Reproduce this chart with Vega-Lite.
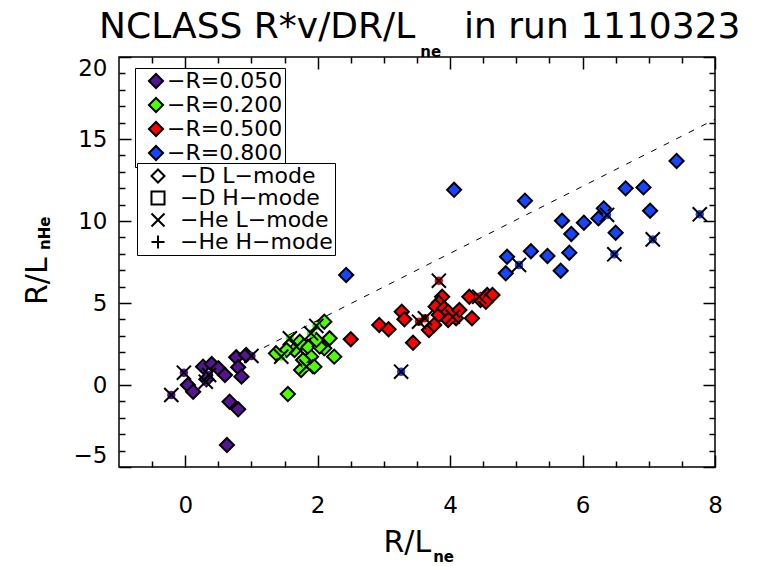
{
  "$schema": "https://vega.github.io/schema/vega-lite/v6.json",
  "width": 596,
  "height": 410,
  "autosize": {"type": "none"},
  "padding": {"left": 119, "top": 57, "right": 48, "bottom": 99},
  "background": "white",
  "config": {
    "view": {"stroke": "black", "strokeWidth": 1.5},
    "font": "DejaVu Sans",
    "axis": {"tickColor": "black", "tickWidth": 1.5}
  },
  "datasets": {
    "pts": [
      {"x": -0.21, "y": -0.61, "R": "0.050", "mode": "He L-mode"},
      {"x": -0.02, "y": 0.75, "R": "0.050", "mode": "He L-mode"},
      {"x": 0.04, "y": 0.0, "R": "0.050", "mode": "D L-mode"},
      {"x": 0.12, "y": -0.41, "R": "0.050", "mode": "D L-mode"},
      {"x": 0.27, "y": 1.12, "R": "0.050", "mode": "D L-mode"},
      {"x": 0.32, "y": 0.35, "R": "0.050", "mode": "D L-mode"},
      {"x": 0.40, "y": 1.28, "R": "0.050", "mode": "D L-mode"},
      {"x": 0.36, "y": 0.61, "R": "0.050", "mode": "He L-mode"},
      {"x": 0.31, "y": 0.2, "R": "0.050", "mode": "He L-mode"},
      {"x": 0.50, "y": 1.02, "R": "0.050", "mode": "D L-mode"},
      {"x": 0.60, "y": 0.61, "R": "0.050", "mode": "D L-mode"},
      {"x": 0.67, "y": -1.02, "R": "0.050", "mode": "D L-mode"},
      {"x": 0.80, "y": -1.48, "R": "0.050", "mode": "D L-mode"},
      {"x": 0.63, "y": -3.66, "R": "0.050", "mode": "D L-mode"},
      {"x": 0.77, "y": 1.69, "R": "0.050", "mode": "D L-mode"},
      {"x": 0.80, "y": 1.08, "R": "0.050", "mode": "D L-mode"},
      {"x": 0.85, "y": 0.51, "R": "0.050", "mode": "D L-mode"},
      {"x": 0.92, "y": 1.83, "R": "0.050", "mode": "D L-mode"},
      {"x": 1.00, "y": 1.77, "R": "0.050", "mode": "He L-mode"},
      {"x": 2.10, "y": 3.86, "R": "0.200", "mode": "D L-mode"},
      {"x": 1.98, "y": 3.60, "R": "0.200", "mode": "He L-mode"},
      {"x": 1.90, "y": 3.15, "R": "0.200", "mode": "He L-mode"},
      {"x": 2.18, "y": 2.85, "R": "0.200", "mode": "D L-mode"},
      {"x": 2.10, "y": 2.24, "R": "0.200", "mode": "D L-mode"},
      {"x": 2.25, "y": 1.73, "R": "0.200", "mode": "D L-mode"},
      {"x": 1.90, "y": 1.73, "R": "0.200", "mode": "D L-mode"},
      {"x": 1.95, "y": 1.12, "R": "0.200", "mode": "D L-mode"},
      {"x": 1.75, "y": 0.91, "R": "0.200", "mode": "D L-mode"},
      {"x": 1.85, "y": 2.34, "R": "0.200", "mode": "D L-mode"},
      {"x": 1.73, "y": 2.64, "R": "0.200", "mode": "D L-mode"},
      {"x": 1.78, "y": 1.52, "R": "0.200", "mode": "D L-mode"},
      {"x": 1.65, "y": 2.13, "R": "0.200", "mode": "D L-mode"},
      {"x": 2.03, "y": 2.34, "R": "0.200", "mode": "D L-mode"},
      {"x": 1.98, "y": 2.74, "R": "0.200", "mode": "D L-mode"},
      {"x": 1.53, "y": 2.13, "R": "0.200", "mode": "D L-mode"},
      {"x": 1.37, "y": 1.93, "R": "0.200", "mode": "D L-mode"},
      {"x": 1.55, "y": -0.55, "R": "0.200", "mode": "D L-mode"},
      {"x": 1.58, "y": 2.85, "R": "0.200", "mode": "He L-mode"},
      {"x": 1.45, "y": 1.73, "R": "0.200", "mode": "He L-mode"},
      {"x": 1.83, "y": 1.12, "R": "0.200", "mode": "He L-mode"},
      {"x": 1.68, "y": 2.34, "R": "0.200", "mode": "He L-mode"},
      {"x": 2.50, "y": 2.79, "R": "0.500", "mode": "D L-mode"},
      {"x": 2.93, "y": 3.66, "R": "0.500", "mode": "D L-mode"},
      {"x": 3.07, "y": 3.40, "R": "0.500", "mode": "D L-mode"},
      {"x": 3.27, "y": 4.47, "R": "0.500", "mode": "D L-mode"},
      {"x": 3.31, "y": 4.01, "R": "0.500", "mode": "D L-mode"},
      {"x": 3.44, "y": 2.58, "R": "0.500", "mode": "D L-mode"},
      {"x": 3.68, "y": 3.35, "R": "0.500", "mode": "D L-mode"},
      {"x": 3.76, "y": 3.66, "R": "0.500", "mode": "D L-mode"},
      {"x": 3.88, "y": 5.38, "R": "0.500", "mode": "D L-mode"},
      {"x": 3.83, "y": 5.02, "R": "0.500", "mode": "D L-mode"},
      {"x": 3.78, "y": 4.78, "R": "0.500", "mode": "D L-mode"},
      {"x": 3.83, "y": 4.27, "R": "0.500", "mode": "D L-mode"},
      {"x": 3.91, "y": 4.68, "R": "0.500", "mode": "D L-mode"},
      {"x": 3.97, "y": 4.47, "R": "0.500", "mode": "D L-mode"},
      {"x": 4.09, "y": 4.07, "R": "0.500", "mode": "D L-mode"},
      {"x": 4.14, "y": 4.57, "R": "0.500", "mode": "D L-mode"},
      {"x": 3.97, "y": 3.96, "R": "0.500", "mode": "D L-mode"},
      {"x": 4.33, "y": 4.07, "R": "0.500", "mode": "D L-mode"},
      {"x": 4.29, "y": 5.38, "R": "0.500", "mode": "D L-mode"},
      {"x": 4.46, "y": 5.18, "R": "0.500", "mode": "D L-mode"},
      {"x": 4.56, "y": 5.49, "R": "0.500", "mode": "D L-mode"},
      {"x": 4.64, "y": 5.49, "R": "0.500", "mode": "D L-mode"},
      {"x": 4.54, "y": 5.08, "R": "0.500", "mode": "D L-mode"},
      {"x": 3.53, "y": 3.86, "R": "0.500", "mode": "He L-mode"},
      {"x": 3.62, "y": 4.07, "R": "0.500", "mode": "He L-mode"},
      {"x": 3.83, "y": 6.36, "R": "0.500", "mode": "He L-mode"},
      {"x": 4.04, "y": 4.16, "R": "0.500", "mode": "He L-mode"},
      {"x": 4.44, "y": 5.38, "R": "0.500", "mode": "He L-mode"},
      {"x": 2.43, "y": 6.71, "R": "0.800", "mode": "D L-mode"},
      {"x": 4.06, "y": 11.9, "R": "0.800", "mode": "D L-mode"},
      {"x": 4.86, "y": 7.82, "R": "0.800", "mode": "D L-mode"},
      {"x": 4.84, "y": 6.81, "R": "0.800", "mode": "D L-mode"},
      {"x": 5.22, "y": 8.16, "R": "0.800", "mode": "D L-mode"},
      {"x": 5.13, "y": 11.24, "R": "0.800", "mode": "D L-mode"},
      {"x": 7.42, "y": 13.66, "R": "0.800", "mode": "D L-mode"},
      {"x": 6.65, "y": 11.99, "R": "0.800", "mode": "D L-mode"},
      {"x": 6.92, "y": 12.05, "R": "0.800", "mode": "D L-mode"},
      {"x": 7.02, "y": 10.63, "R": "0.800", "mode": "D L-mode"},
      {"x": 6.32, "y": 10.77, "R": "0.800", "mode": "D L-mode"},
      {"x": 6.24, "y": 10.16, "R": "0.800", "mode": "D L-mode"},
      {"x": 6.02, "y": 9.90, "R": "0.800", "mode": "D L-mode"},
      {"x": 5.69, "y": 10.02, "R": "0.800", "mode": "D L-mode"},
      {"x": 5.83, "y": 9.21, "R": "0.800", "mode": "D L-mode"},
      {"x": 6.50, "y": 9.29, "R": "0.800", "mode": "D L-mode"},
      {"x": 5.80, "y": 8.07, "R": "0.800", "mode": "D L-mode"},
      {"x": 5.47, "y": 7.87, "R": "0.800", "mode": "D L-mode"},
      {"x": 5.67, "y": 6.97, "R": "0.800", "mode": "D L-mode"},
      {"x": 3.26, "y": 0.81, "R": "0.800", "mode": "He L-mode"},
      {"x": 5.04, "y": 7.32, "R": "0.800", "mode": "He L-mode"},
      {"x": 7.77, "y": 10.41, "R": "0.800", "mode": "He L-mode"},
      {"x": 6.37, "y": 10.37, "R": "0.800", "mode": "He L-mode"},
      {"x": 7.06, "y": 8.88, "R": "0.800", "mode": "He L-mode"},
      {"x": 6.48, "y": 7.97, "R": "0.800", "mode": "He L-mode"}
    ],
    "fit": [
      {"x": 1.0, "y": 1.9},
      {"x": 8.0, "y": 16.2}
    ]
  },
  "layer": [
    {
      "data": {"name": "pts"},
      "encoding": {
        "x": {
          "field": "x", "type": "quantitative",
          "scale": {"domain": [-1, 8], "nice": false, "zero": false},
          "axis": {
            "orient": "bottom",
            "values": [-0.5, 0, 0.5, 1, 1.5, 2, 2.5, 3, 3.5, 4, 4.5, 5, 5.5, 6, 6.5, 7, 7.5, 8],
            "labelExpr": "datum.value % 2 == 0 ? replace(datum.label, '.0', '') : ''",
            "tickSize": {"condition": {"test": "datum.value % 2 == 0", "value": -12}, "value": -6},
            "labelPadding": 39, "labelFlush": false, "labelOverlap": false,
            "labelFontSize": 23, "labelColor": "black",
            "domain": false, "grid": false, "title": null
          }
        },
        "y": {
          "field": "y", "type": "quantitative",
          "scale": {"domain": [-5, 20], "nice": false, "zero": false},
          "axis": {
            "orient": "left",
            "values": [-5, -4, -3, -2, -1, 0, 1, 2, 3, 4, 5, 6, 7, 8, 9, 10, 11, 12, 13, 14, 15, 16, 17, 18, 19, 20],
            "labelExpr": "datum.value % 5 == 0 ? replace(datum.label, '.0', '') : ''",
            "tickSize": {"condition": {"test": "datum.value % 5 == 0", "value": -12}, "value": -6},
            "labelPadding": 24, "labelFlush": true, "labelOverlap": false,
            "labelFontSize": 23, "labelColor": "black",
            "domain": false, "grid": false, "title": null
          }
        }
      },
      "layer": [
        {
          "transform": [{"filter": "datum.mode == 'D L-mode'"}],
          "mark": {"type": "point", "filled": true, "shape": "diamond", "stroke": "black", "strokeWidth": 2, "size": 200, "opacity": 1},
          "encoding": {
            "color": {
              "field": "R", "type": "nominal",
              "scale": {"domain": ["0.050", "0.200", "0.500", "0.800"], "range": ["#551491", "#4DFF00", "#FF0000", "#1446FF"]},
              "legend": {
                "orient": "none", "legendX": 16, "legendY": 11, "title": null,
                "strokeColor": "black", "fillColor": "white", "padding": 2,
                "symbolType": "diamond", "symbolSize": 200, "symbolStrokeColor": "black", "symbolStrokeWidth": 2,
                "symbolOffset": 8, "labelOffset": 0, "rowPadding": 0,
                "labelFontSize": 22, "labelColor": "black",
                "labelExpr": "'\u2212R=' + datum.label",
                "encode": {"symbols": {"update": {"shape": {"value": "diamond"}, "stroke": {"value": "black"}, "strokeWidth": {"value": 2}, "opacity": {"value": 1}}}}
              }
            }
          }
        },
        {
          "transform": [{"filter": "datum.mode == 'He L-mode'"}],
          "mark": {"type": "point", "filled": true, "shape": "circle", "size": 70, "opacity": 1},
          "encoding": {
            "color": {"field": "R", "type": "nominal"}
          }
        },
        {
          "transform": [{"filter": "datum.mode == 'He L-mode'"}],
          "mark": {"type": "point", "filled": false, "stroke": "black", "strokeWidth": 2, "size": 200, "opacity": 1},
          "encoding": {
            "shape": {
              "field": "mode", "type": "nominal",
              "scale": {
                "domain": ["D L-mode", "D H-mode", "He L-mode", "He H-mode"],
                "range": ["diamond", "square", "M-1,-1L1,1M-1,1L1,-1", "M-1,0L1,0M0,-1L0,1"]
              },
              "legend": {
                "orient": "none", "legendX": 18, "legendY": 106, "title": null,
                "strokeColor": "black", "fillColor": "white", "padding": 2,
                "symbolSize": 170, "symbolStrokeWidth": 2, "symbolStrokeColor": "black", "symbolFillColor": "transparent",
                "symbolOffset": 8, "labelOffset": 11, "rowPadding": 0,
                "labelFontSize": 22, "labelColor": "black",
                "labelExpr": "'\u2212' + replace(datum.label, '-', '\u2212')"
              }
            }
          }
        }
      ]
    },
    {
      "data": {"name": "fit"},
      "mark": {"type": "line", "stroke": "black", "strokeWidth": 1, "strokeDash": [6, 8]},
      "encoding": {
        "x": {
          "field": "x", "type": "quantitative",
          "scale": {"domain": [-1, 8], "nice": false, "zero": false},
          "axis": {
            "orient": "top",
            "values": [-0.5, 0, 0.5, 1, 1.5, 2, 2.5, 3, 3.5, 4, 4.5, 5, 5.5, 6, 6.5, 7, 7.5, 8],
            "labels": false,
            "tickSize": {"condition": {"test": "datum.value % 2 == 0", "value": -12}, "value": -6},
            "domain": false, "grid": false, "title": null
          }
        },
        "y": {
          "field": "y", "type": "quantitative",
          "scale": {"domain": [-5, 20], "nice": false, "zero": false},
          "axis": {
            "orient": "right",
            "values": [-5, -4, -3, -2, -1, 0, 1, 2, 3, 4, 5, 6, 7, 8, 9, 10, 11, 12, 13, 14, 15, 16, 17, 18, 19, 20],
            "labels": false,
            "tickSize": {"condition": {"test": "datum.value % 5 == 0", "value": -12}, "value": -6},
            "domain": false, "grid": false, "title": null
          }
        }
      }
    },
    {
      "data": {"values": [{}]},
      "layer": [
        {
          "mark": {"type": "text", "align": "right", "baseline": "alphabetic", "fontSize": 36, "color": "black"},
          "encoding": {
            "x": {"datum": 3.473, "type": "quantitative", "scale": {"domain": [-1, 8], "nice": false, "zero": false}, "axis": null},
            "y": {"datum": 21.16, "type": "quantitative", "scale": {"domain": [-5, 20], "nice": false, "zero": false}, "axis": null},
            "text": {"value": "NCLASS R*v/DR/L"}
          }
        },
        {
          "mark": {"type": "text", "align": "left", "baseline": "alphabetic", "fontSize": 15, "fontWeight": "bold", "color": "black"},
          "encoding": {
            "x": {"datum": 3.55, "type": "quantitative", "scale": {"domain": [-1, 8], "nice": false, "zero": false}, "axis": null},
            "y": {"datum": 20.0, "type": "quantitative", "scale": {"domain": [-5, 20], "nice": false, "zero": false}, "axis": null},
            "text": {"value": "ne"}
          }
        },
        {
          "mark": {"type": "text", "align": "left", "baseline": "alphabetic", "fontSize": 36, "color": "black"},
          "encoding": {
            "x": {"datum": 4.21, "type": "quantitative", "scale": {"domain": [-1, 8], "nice": false, "zero": false}, "axis": null},
            "y": {"datum": 21.16, "type": "quantitative", "scale": {"domain": [-5, 20], "nice": false, "zero": false}, "axis": null},
            "text": {"value": "in run 1110323"}
          }
        },
        {
          "mark": {"type": "text", "align": "right", "baseline": "alphabetic", "fontSize": 30, "color": "black"},
          "encoding": {
            "x": {"datum": 3.714, "type": "quantitative", "scale": {"domain": [-1, 8], "nice": false, "zero": false}, "axis": null},
            "y": {"datum": -10.18, "type": "quantitative", "scale": {"domain": [-5, 20], "nice": false, "zero": false}, "axis": null},
            "text": {"value": "R/L"}
          }
        },
        {
          "mark": {"type": "text", "align": "left", "baseline": "alphabetic", "fontSize": 15, "fontWeight": "bold", "color": "black"},
          "encoding": {
            "x": {"datum": 3.744, "type": "quantitative", "scale": {"domain": [-1, 8], "nice": false, "zero": false}, "axis": null},
            "y": {"datum": -10.79, "type": "quantitative", "scale": {"domain": [-5, 20], "nice": false, "zero": false}, "axis": null},
            "text": {"value": "ne"}
          }
        },
        {
          "mark": {"type": "text", "align": "left", "baseline": "alphabetic", "angle": 270, "fontSize": 30, "color": "black"},
          "encoding": {
            "x": {"datum": -2.084, "type": "quantitative", "scale": {"domain": [-1, 8], "nice": false, "zero": false}, "axis": null},
            "y": {"datum": 4.878, "type": "quantitative", "scale": {"domain": [-5, 20], "nice": false, "zero": false}, "axis": null},
            "text": {"value": "R/L"}
          }
        },
        {
          "mark": {"type": "text", "align": "left", "baseline": "alphabetic", "angle": 270, "fontSize": 15, "fontWeight": "bold", "color": "black"},
          "encoding": {
            "x": {"datum": -2.039, "type": "quantitative", "scale": {"domain": [-1, 8], "nice": false, "zero": false}, "axis": null},
            "y": {"datum": 8.23, "type": "quantitative", "scale": {"domain": [-5, 20], "nice": false, "zero": false}, "axis": null},
            "text": {"value": "nHe"}
          }
        }
      ]
    }
  ],
  "resolve": {"scale": {"x": "independent", "y": "independent"}}
}
